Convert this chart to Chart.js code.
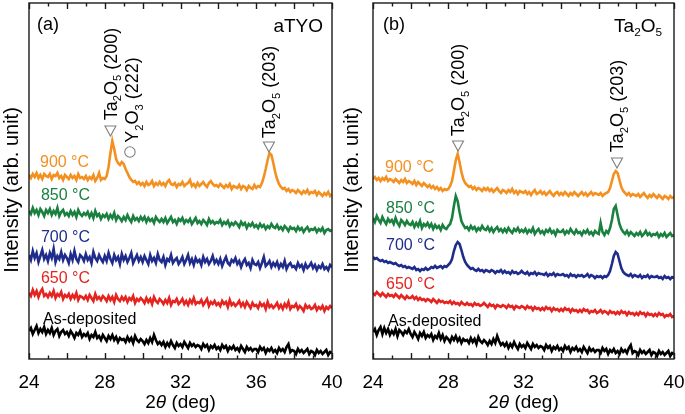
<!DOCTYPE html>
<html><head><meta charset="utf-8">
<script src="https://cdn.jsdelivr.net/npm/chart.js@4.4.1/dist/chart.umd.min.js"></script>
<style>
html,body{margin:0;padding:0;background:#fff;width:685px;height:414px;overflow:hidden}
#ca{position:absolute;left:0;top:0}
#cb{position:absolute;left:343px;top:0}
</style></head><body>
<canvas id="ca" width="344" height="414"></canvas>
<canvas id="cb" width="342" height="414"></canvas>
<script>
// ---- 2theta grid (deg) ----
const twoTheta = [
24,24.1,24.2,24.3,24.4,24.5,24.6,24.7,24.8,24.9,
25,25.1,25.2,25.3,25.4,25.5,25.6,25.7,25.8,25.9,
26,26.1,26.2,26.3,26.4,26.5,26.6,26.7,26.8,26.9,
27,27.1,27.2,27.3,27.4,27.5,27.6,27.7,27.8,27.9,
28,28.1,28.2,28.3,28.4,28.5,28.6,28.7,28.8,28.9,
29,29.1,29.2,29.3,29.4,29.5,29.6,29.7,29.8,29.9,
30,30.1,30.2,30.3,30.4,30.5,30.6,30.7,30.8,30.9,
31,31.1,31.2,31.3,31.4,31.5,31.6,31.7,31.8,31.9,
32,32.1,32.2,32.3,32.4,32.5,32.6,32.7,32.8,32.9,
33,33.1,33.2,33.3,33.4,33.5,33.6,33.7,33.8,33.9,
34,34.1,34.2,34.3,34.4,34.5,34.6,34.7,34.8,34.9,
35,35.1,35.2,35.3,35.4,35.5,35.6,35.7,35.8,35.9,
36,36.1,36.2,36.3,36.4,36.5,36.6,36.7,36.8,36.9,
37,37.1,37.2,37.3,37.4,37.5,37.6,37.7,37.8,37.9,
38,38.1,38.2,38.3,38.4,38.5,38.6,38.7,38.8,38.9,
39,39.1,39.2,39.3,39.4,39.5,39.6,39.7,39.8,39.9,
40];
const xTickLabels = [24, 28, 32, 36, 40];
const seriesNames = ['900 °C', '850 °C', '700 °C', '650 °C', 'As-deposited'];

// ---- (a) aTYO, intensities with vertical offsets (arb. unit) ----
const aTYO_900 = [
184,181,185,182,186,181,184,180,185,183,
182,185,180,184,183,186,181,183,179,184,
182,180,184,181,183,179,185,181,182,180,
183,179,182,180,184,178,181,186,179,181,
180,183,192,206,218,210,200,196,194,197,
195,190,186,182,179,177,178,175,177,174,
176,173,177,174,175,178,173,176,174,177,
174,176,173,177,179,175,174,176,172,175,
174,177,173,175,176,179,173,175,172,176,
173,175,177,174,172,176,178,175,173,174,
172,175,173,171,174,172,175,170,173,172,
171,174,170,173,172,169,173,171,170,174,
171,173,172,176,182,190,199,206,204,196,
187,180,175,172,170,171,168,170,167,169,
168,166,169,167,165,168,166,169,165,167,
166,168,164,167,165,163,166,164,167,163,
165];
const aTYO_850 = [
148,145,151,146,149,144,150,147,143,149,
146,150,144,148,145,151,143,147,149,144,
146,143,148,144,147,142,149,145,143,146,
144,147,142,146,141,148,143,145,140,144,
142,145,140,144,141,146,139,143,141,138,
142,139,144,140,137,143,139,141,138,142,
139,142,137,141,138,140,136,142,139,137,
140,137,141,136,139,142,137,139,135,140,
138,141,136,139,137,140,135,138,141,136,
138,135,139,137,134,140,136,138,135,137,
136,139,134,137,135,138,133,136,134,137,
135,132,137,134,136,131,135,133,136,132,
134,131,135,132,134,130,133,131,135,132,
131,134,130,132,129,133,131,128,132,130,
131,128,132,129,131,127,130,132,128,130,
129,131,127,130,128,131,126,129,130,128,
129];
const aTYO_700 = [
104,99,108,101,106,97,103,109,100,104,
98,106,101,110,97,103,100,107,99,104,
101,96,105,99,108,100,97,104,102,98,
105,99,102,96,107,101,98,104,100,97,
103,98,106,100,96,104,99,102,95,105,
99,103,97,101,106,96,100,104,98,102,
97,103,99,95,104,98,101,96,105,99,
97,102,94,100,98,104,96,99,101,95,
98,102,95,99,104,96,100,94,101,97,
99,94,102,97,100,95,98,103,96,99,
95,100,93,98,102,96,94,99,97,101,
95,98,92,97,100,94,96,91,99,95,
94,97,91,96,102,93,95,98,92,96,
93,97,91,95,92,98,90,94,96,92,
93,90,96,92,94,89,95,91,93,96,
91,94,89,93,91,95,90,92,89,94,
92];
const aTYO_650 = [
66,63,69,64,68,62,67,70,63,65,
62,66,63,68,61,65,63,67,60,64,
62,65,60,64,61,66,59,63,62,60,
63,59,64,61,58,65,60,62,59,63,
61,58,63,59,62,57,64,60,58,62,
59,62,57,61,59,63,56,60,58,61,
59,56,61,57,60,55,62,58,56,60,
58,55,59,56,61,54,58,57,60,55,
57,60,55,58,54,59,56,61,55,57,
56,59,54,57,60,53,57,55,58,54,
56,53,58,55,57,52,59,54,56,53,
55,58,53,56,52,57,54,51,56,53,
54,51,56,53,55,50,57,52,54,51,
53,56,51,54,50,55,52,57,50,53,
52,55,50,53,51,48,54,51,53,50,
51,54,49,52,50,53,48,52,50,53,
51];
const aTYO_asdep = [
28,31,25,29,33,26,30,27,32,25,
29,26,31,24,28,30,23,27,29,25,
27,23,28,25,21,26,24,28,22,25,
23,26,20,24,22,27,21,23,19,24,
21,18,23,20,24,19,22,17,21,19,
20,17,22,18,21,16,23,19,17,20,
18,15,19,16,21,17,24,19,15,17,
14,17,12,16,13,18,14,11,16,13,
15,12,17,14,11,16,13,15,12,14,
13,10,15,12,14,9,13,11,14,10,
12,9,14,11,13,8,12,10,13,9,
11,8,13,10,7,12,9,11,8,10,
10,7,12,9,11,6,10,8,11,7,
9,6,11,8,10,7,12,15,7,9,
8,5,10,7,9,6,8,10,5,8,
7,4,9,6,8,5,7,9,4,7,
6];

// ---- (b) Ta2O5 ----
const Ta2O5_900 = [
180,182,179,181,178,181,179,182,178,180,
179,177,180,178,176,179,177,180,176,178,
177,175,178,174,177,175,173,176,174,172,
174,171,173,170,172,169,171,168,170,169,
170,173,178,188,199,205,197,187,180,176,
174,172,173,170,172,169,171,170,168,171,
169,171,168,170,167,169,171,168,166,169,
168,166,169,167,170,166,168,165,168,167,
166,168,165,167,164,167,169,165,166,168,
165,167,164,166,168,165,163,166,167,164,
166,164,167,165,163,166,164,167,165,163,
165,167,164,166,163,165,167,164,166,165,
164,166,163,165,166,167,171,178,185,188,
186,179,172,168,166,164,166,163,165,164,
163,165,162,164,166,163,161,164,162,165,
163,161,164,162,160,163,162,160,163,161,
162];
const Ta2O5_850 = [
141,137,143,139,136,142,138,135,140,137,
139,135,141,136,133,139,137,134,138,135,
134,137,132,136,133,138,131,135,133,136,
132,135,130,134,131,133,129,134,131,130,
133,135,141,153,163,158,147,138,134,131,
132,129,133,130,132,128,131,129,133,130,
129,132,128,131,127,130,132,128,130,127,
130,127,131,128,126,130,128,131,127,129,
127,130,126,129,127,131,125,128,130,126,
128,125,129,127,130,126,128,124,129,127,
127,129,125,128,126,130,127,125,129,126,
127,124,128,126,129,125,127,124,128,126,
125,136,127,124,128,126,131,139,150,153,
144,135,130,127,125,128,124,127,125,123,
126,124,127,123,125,128,124,126,123,125,
124,126,122,125,123,126,122,124,126,123,
124];
const Ta2O5_700 = [
102,100,101,99,98,99,97,98,96,97,
96,95,96,94,93,94,92,93,91,92,
91,90,92,89,90,88,90,89,91,89,
90,92,91,93,91,92,93,91,93,92,
94,96,100,108,114,117,115,109,102,97,
94,92,90,91,89,88,90,88,89,87,
89,88,87,89,88,86,88,87,89,86,
88,86,87,85,88,86,87,85,86,88,
86,85,87,84,86,85,87,84,86,85,
85,84,86,83,85,84,86,83,85,84,
84,85,83,84,82,85,83,84,82,84,
83,84,82,83,85,82,84,83,81,83,
82,83,81,83,82,84,88,95,103,107,
105,98,91,87,85,84,83,85,82,84,
83,82,84,81,83,82,84,81,83,82,
82,83,81,82,80,83,81,82,80,82,
81];
const Ta2O5_650 = [
66,64,67,65,63,66,64,62,65,63,
64,62,65,63,61,64,62,60,63,61,
61,63,60,62,59,61,59,60,58,60,
59,57,60,58,56,59,57,58,56,57,
56,58,55,57,55,56,54,57,55,54,
56,54,55,53,56,54,55,53,54,56,
54,52,55,53,54,51,54,53,52,54,
53,51,54,52,53,50,53,52,51,53,
52,50,53,51,52,49,52,50,51,49,
51,49,52,50,51,48,51,49,50,48,
50,48,51,49,50,47,50,48,49,47,
49,47,50,48,49,46,48,47,49,46,
47,49,46,48,47,45,48,46,47,45,
47,45,48,46,47,44,47,45,46,44,
46,44,47,45,46,43,46,44,45,43,
45,43,46,44,45,42,44,43,45,42,
43];
const Ta2O5_asdep = [
27,30,24,29,32,25,31,26,30,24,
28,25,30,23,29,27,24,28,26,30,
25,22,27,24,20,26,23,27,21,24,
22,25,19,23,21,26,20,24,18,22,
20,17,22,19,23,18,21,16,20,18,
19,16,21,17,20,15,22,18,16,19,
17,14,18,15,20,16,23,18,14,16,
13,16,11,15,12,17,13,10,15,12,
14,11,16,13,10,15,12,14,11,13,
12,9,14,11,13,8,12,10,13,9,
11,8,13,10,12,7,11,9,12,8,
10,7,12,9,6,11,8,10,7,9,
9,6,11,8,10,5,9,7,10,6,
8,5,10,7,9,6,11,14,6,8,
7,4,9,6,8,5,7,9,4,7,
6,3,8,5,7,4,6,8,3,6,
5];

// ---------------- styling & drawing ----------------
const FONT = "'Liberation Sans', Arial, Helvetica, sans-serif";
const COLORS = ['#F39020', '#1A8040', '#1F2C8C', '#E5231F', '#000000'];
Chart.defaults.font.family = FONT;

function drawRich(ctx, parts, size, color, x, y, align, rot) {
  ctx.save();
  ctx.translate(x, y);
  if (rot) ctx.rotate(rot);
  ctx.fillStyle = color;
  ctx.textBaseline = 'alphabetic';
  ctx.textAlign = 'left';
  const subSize = size * 0.62;
  const fontOf = p => (p.it ? 'italic ' : '') + (p.sub ? subSize : size) + 'px ' + FONT;
  let w = 0;
  const widths = parts.map(p => { ctx.font = fontOf(p); const m = ctx.measureText(p.t).width; w += m; return m; });
  let cx = align === 'center' ? -w / 2 : (align === 'right' ? -w : 0);
  const base = size * 0.358;
  parts.forEach((p, i) => {
    ctx.font = fontOf(p);
    ctx.fillText(p.t, cx, p.sub ? base + size * 0.24 : base);
    cx += widths[i];
  });
  ctx.restore();
}

const TA200 = [{t:'Ta'},{t:'2',sub:true},{t:'O'},{t:'5',sub:true},{t:' (200)'}];
const TA203 = [{t:'Ta'},{t:'2',sub:true},{t:'O'},{t:'5',sub:true},{t:' (203)'}];
const Y222 = [{t:'Y'},{t:'2',sub:true},{t:'O'},{t:'3',sub:true},{t:' (222)'}];

const decor = {
  id: 'decor',
  afterDraw(chart, args, o) {
    const {ctx, chartArea: a, scales: {x, y}} = chart;
    ctx.save();
    // frame
    ctx.strokeStyle = '#1a1a1a'; ctx.lineWidth = 1.4;
    ctx.strokeRect(a.left, a.top, a.right - a.left, a.bottom - a.top);
    // inward tick marks at each x-scale tick
    ctx.beginPath();
    x.ticks.forEach(t => {
      const px = Math.round(x.getPixelForValue(t.value)) + 0.5;
      const len = t.value % 2 === 0 ? 6 : 3.5;
      ctx.moveTo(px, a.bottom); ctx.lineTo(px, a.bottom - len);
      ctx.moveTo(px, a.top); ctx.lineTo(px, a.top + len);
    });
    ctx.stroke();
    // peak markers
    ctx.strokeStyle = '#808080'; ctx.lineWidth = 1.1;
    o.triangles.forEach(([vx, vy]) => {
      const px = x.getPixelForValue(vx), py = y.getPixelForValue(vy);
      ctx.beginPath();
      ctx.moveTo(px - 5.5, py - 5); ctx.lineTo(px + 5.5, py - 5); ctx.lineTo(px, py + 5); ctx.closePath();
      ctx.stroke();
    });
    o.circles.forEach(([vx, vy]) => {
      const px = x.getPixelForValue(vx), py = y.getPixelForValue(vy);
      ctx.beginPath(); ctx.arc(px, py, 5.2, 0, Math.PI * 2); ctx.stroke();
    });
    ctx.restore();
    // peak labels (rotated)
    o.peakTexts.forEach(t => drawRich(ctx, t.parts, 18, '#000', x.getPixelForValue(t.x), y.getPixelForValue(t.y), 'center', -Math.PI / 2));
    // series labels
    o.seriesLabels.forEach((s, i) => drawRich(ctx, [{t: seriesNames[i]}], 16, COLORS[i], x.getPixelForValue(s[0]), y.getPixelForValue(s[1]), 'left'));
    // panel tag and sample name
    drawRich(ctx, [{t: o.tag}], 18, '#000', a.left + o.tagDx, a.top + 21, 'left');
    drawRich(ctx, o.name, 19, '#000', a.right - o.nameDx, a.top + 22, 'right');
    // axis titles
    drawRich(ctx, [{t:'2'},{t:'θ',it:true},{t:' (deg)'}], 19, '#000', (a.left + a.right) / 2, 401, 'center');
    drawRich(ctx, [{t:'Intensity (arb. unit)'}], 20, '#000', o.yTitleX, 190, 'center', -Math.PI / 2);
  }
};

function makeChart(id, series, pad, o) {
  return new Chart(document.getElementById(id), {
    type: 'line',
    data: {
      labels: twoTheta,
      datasets: series.map((d, i) => ({
        label: seriesNames[i], data: d, borderColor: COLORS[i], borderWidth: 2.6,
        pointRadius: 0, tension: 0, fill: false
      }))
    },
    options: {
      responsive: false, animation: false, events: [],
      layout: {padding: pad},
      plugins: {legend: {display: false}, tooltip: {enabled: false}, decor: o},
      scales: {
        x: {
          type: 'linear', min: 24, max: 40,
          grid: {display: false},
          border: {display: false},
          afterFit: s => { s.height = 55; s.paddingLeft = 0; s.paddingRight = 0; },
          ticks: {
            stepSize: 1, autoSkip: false, maxRotation: 0, padding: 4,
            color: '#000', font: {size: 19},
            callback: v => xTickLabels.includes(v) ? String(v) : ''
          }
        },
        y: {display: false, min: 0, max: 356}
      }
    },
    plugins: [decor]
  });
}

makeChart('ca', [aTYO_900, aTYO_850, aTYO_700, aTYO_650, aTYO_asdep],
  {left: 29, right: 12, top: 3, bottom: 0},
  {
    triangles: [[28.3, 228], [36.67, 212]],
    circles: [[29.33, 207]],
    peakTexts: [{parts: TA200, x: 28.3, y: 285}, {parts: Y222, x: 29.44, y: 259}, {parts: TA203, x: 36.67, y: 267}],
    seriesLabels: [[24.58, 198], [24.63, 165], [24.63, 123], [24.63, 82], [24.74, 41]],
    tag: '(a)', tagDx: 8, name: [{t:'aTYO'}], nameDx: 9, yTitleX: 11
  });

makeChart('cb', [Ta2O5_900, Ta2O5_850, Ta2O5_700, Ta2O5_650, Ta2O5_asdep],
  {left: 30, right: 11, top: 3, bottom: 0},
  {
    triangles: [[28.52, 213], [36.97, 196]],
    circles: [],
    peakTexts: [{parts: TA200, x: 28.52, y: 269}, {parts: TA203, x: 36.97, y: 253}],
    seriesLabels: [[24.64, 193], [24.69, 152], [24.69, 115], [24.69, 76], [24.8, 39]],
    tag: '(b)', tagDx: 10, name: [{t:'Ta'},{t:'2',sub:true},{t:'O'},{t:'5',sub:true}], nameDx: 12, yTitleX: 8
  });
</script></body></html>
